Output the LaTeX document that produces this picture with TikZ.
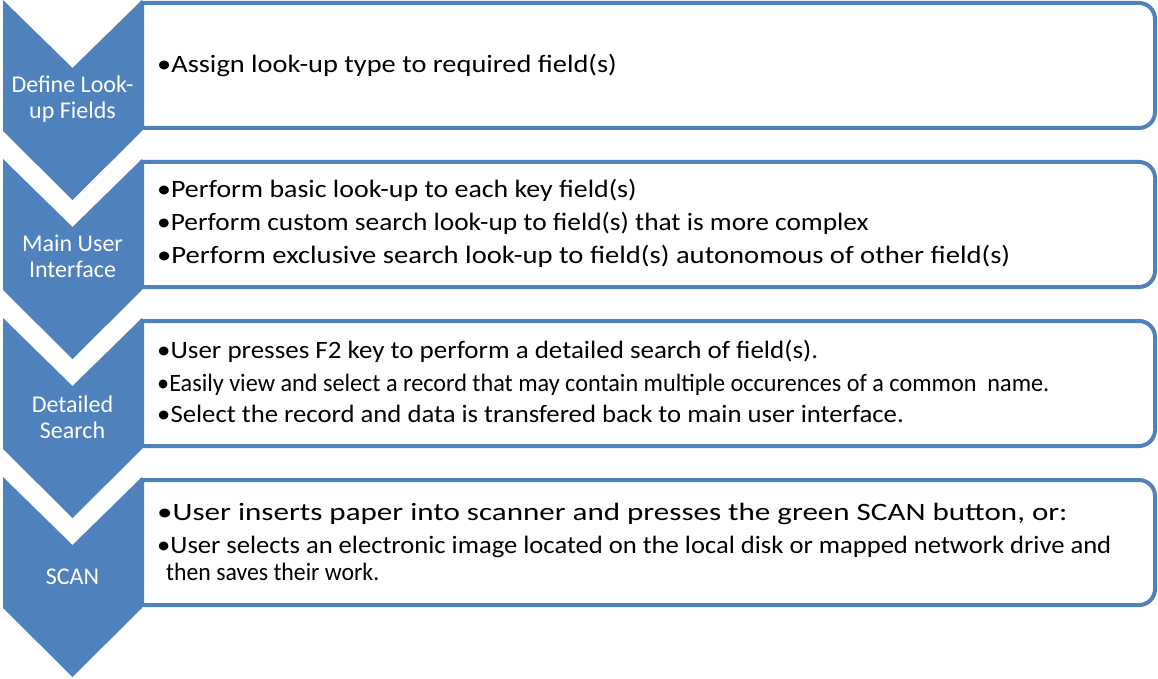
\documentclass[tikz,border=0pt]{standalone}
\usepackage{fontspec}
\usepackage{graphicx}
\setmainfont{Carlito}
\definecolor{accent}{RGB}{79,129,189}
\newcommand\hstretch[2]{\scalebox{#1}[1]{#2}}
\begin{document}
\begin{tikzpicture}[x=1pt,y=-1pt,
  chev/.style={fill=accent,draw=none},
  card/.style={draw=accent,line width=4pt,fill=white},
  lbl/.style={text=white,font=\fontsize{24}{26}\selectfont,anchor=base,inner sep=0pt},
  body/.style={anchor=base west,inner sep=0pt,font=\fontsize{25}{28}\selectfont}]
\useasboundingbox (0,0) rectangle (1158,679);
% content boxes
\foreach \b/\n in {3/1,162/2,321/3,480/4}{
  \draw[card] (142,\b) -- (1139,\b) .. controls (1147.8,\b) and (1155,\b+7.2) .. (1155,\b+16)
    -- (1155,\b+109) .. controls (1155,\b+117.8) and (1147.8,\b+125) .. (1139,\b+125)
    -- (142,\b+125) -- cycle;
}
% chevrons
\foreach \t in {0,159,318,477}{
  \fill[chev] (3,\t) -- (72.5,\t+68) -- (142,\t) -- (142,\t+131) -- (72.5,\t+200) -- (3,\t+131) -- cycle;
}
% chevron labels
\node[lbl] (c1a) at (72.5,93) {Define Look-};
\node[lbl] (c1b) at (72.5,119) {up Fields};
\node[lbl] (c2a) at (72.5,251) {Main User};
\node[lbl] (c2b) at (72.5,277) {Interface};
\node[lbl] (c3a) at (72.5,412) {Detailed};
\node[lbl] (c3b) at (72.5,438) {Search};
\node[lbl] (c4a) at (72.5,584) {SCAN};
% box texts
\node[body] (t1a) at (157,73) {\hstretch{1.136}{•Assign look-up type to required field(s)}};
\node[body] (t2a) at (157,197) {\hstretch{1.116}{•Perform basic look-up to each key field(s)}};
\node[body] (t2b) at (157,230) {\hstretch{1.094}{•Perform custom search look-up to field(s) that is more complex}};
\node[body] (t2c) at (157,263) {\hstretch{1.145}{•Perform exclusive search look-up to field(s) autonomous of other field(s)}};
\node[body] (t3a) at (157,358) {\hstretch{1.08}{•User presses F2 key to perform a detailed search of field(s).}};
\node[body] (t3b) at (157,391) {\hstretch{0.969}{•Easily view and select a record that may contain multiple occurences of a common\ \ name.}};
\node[body] (t3c) at (157,422) {\hstretch{1.069}{•Select the record and data is transfered back to main user interface.}};
\node[body] (t4a) at (157,520) {\hstretch{1.242}{•User inserts paper into scanner and presses the green SCAN button, or:}};
\node[body] (t4b) at (157,553) {\hstretch{1.064}{•User selects an electronic image located on the local disk or mapped network drive and}};
\node[body] (t4c) at (166,580) {\hstretch{0.95}{then saves their work.}};
\end{tikzpicture}
\end{document}
